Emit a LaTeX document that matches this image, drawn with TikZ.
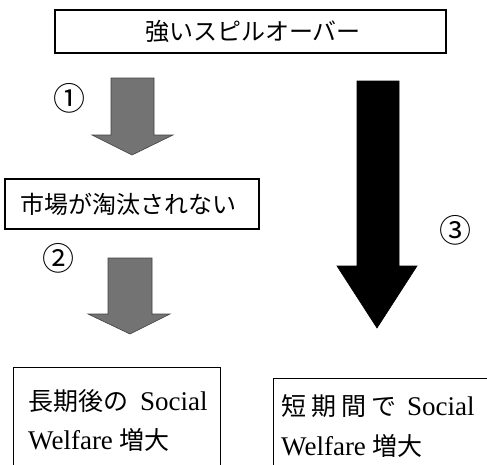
\documentclass[tikz,border=0pt]{standalone}
\usepackage{fontspec}
\setmainfont{Liberation Serif}
\newfontfamily\jp{Noto Sans CJK JP}
\begin{document}
\begin{tikzpicture}[x=1pt, y=-1pt, line join=miter,
    box/.style={draw, line width=1.1pt, rectangle, inner sep=0pt},
    label/.style={font=\jp\fontsize{24}{24}\selectfont, inner sep=0pt},
    num/.style={font=\jp\fontsize{32}{32}\selectfont, inner sep=0pt},
    grayarr/.style={fill=black!55, draw=black!75, line width=0.6pt},
    blackarr/.style={fill=black, draw=black, line width=0.6pt}]
  \useasboundingbox (0,0) rectangle (487,464);
  % 上の枠
  \node[box, minimum width=391pt, minimum height=43pt] (spill) at (250.5,31.5) {};
  \node[label] (spilltxt) at (253,31.5) {強いスピルオーバー};
  % 中の枠
  \node[box, minimum width=254pt, minimum height=50pt] (market) at (132,204) {};
  \node[label] (markettxt) at (128,204) {市場が淘汰されない};
  % 下の枠（下辺は画面の外）
  \node[box, anchor=north west, minimum width=207pt, minimum height=110pt] (longbox) at (13,367) {};
  \node[box, anchor=north west, minimum width=220pt, minimum height=100pt] (shortbox) at (273,378) {};
  \node[anchor=north west, align=left, inner sep=0pt, font=\fontsize{27}{39}\selectfont]
    (longtxt) at (28,389) {{\jp\fontsize{25}{39}\selectfont 長期後の}\hspace{12pt}Social\\Welfare {\jp\fontsize{25}{39}\selectfont 増大}};
  \node[anchor=north west, align=left, inner sep=0pt, font=\fontsize{27}{40}\selectfont]
    (shorttxt) at (281,394) {{\jp\fontsize{25}{40}\selectfont 短\hspace{5pt}期\hspace{5pt}間\hspace{5pt}で}\hspace{11pt}Social\\Welfare {\jp\fontsize{25}{40}\selectfont 増大}};
  % 番号
  \node[num] (n1) at (69,98) {①};
  \node[num] (n2) at (58,258) {②};
  \node[num] (n3) at (455,230) {③};
  % 矢印
  \draw[grayarr] (111,78) -- (154,78) -- (154,135) -- (173,135) -- (132,155)
    -- (92,135) -- (111,135) -- cycle;
  \draw[grayarr] (108,258) -- (152,258) -- (152,314) -- (170,314) -- (130,334)
    -- (88,314) -- (108,314) -- cycle;
  \draw[blackarr] (357,81) -- (399,81) -- (399,266) -- (417,266) -- (377,328)
    -- (337,266) -- (357,266) -- cycle;
\end{tikzpicture}
\end{document}
